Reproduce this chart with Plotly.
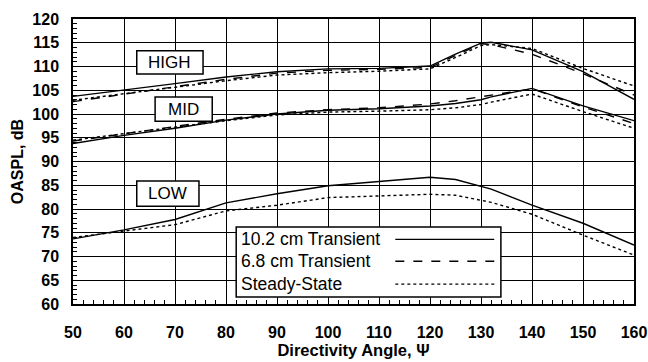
import plotly.graph_objects as go

angle = [50, 60, 70, 80, 90, 100, 110, 120, 125, 130, 132, 140, 150, 160]

high_102 = [103.7, 105.0, 106.4, 107.8, 108.9, 109.5, 109.6, 110.1, 112.6, 114.9, 115.1, 113.5, 108.9, 103.1]
high_68  = [102.6, 104.2, 105.8, 107.3, 108.6, 109.2, 109.4, 109.8, 112.3, 114.8, 114.6, 112.6, 108.5, 104.0]
high_ss  = [102.9, 104.3, 105.7, 107.0, 108.2, 108.7, 109.0, 109.5, 111.9, 114.4, 114.6, 113.8, 109.6, 105.9]

mid_102 = [93.8, 95.5, 97.0, 98.7, 100.0, 100.8, 101.1, 101.7, 102.2, 103.0, 103.6, 105.4, 101.7, 98.6]
mid_68  = [94.3, 95.8, 97.3, 98.9, 100.2, 100.9, 101.3, 102.1, 102.8, 103.6, 104.0, 105.3, 101.5, 98.0]
mid_ss  = [94.5, 95.9, 97.3, 98.6, 99.8, 100.4, 100.6, 100.9, 101.3, 102.0, 102.5, 104.2, 100.5, 97.0]

low_102 = [73.7, 75.6, 77.8, 81.3, 83.2, 84.9, 85.8, 86.7, 86.2, 84.8, 84.2, 80.8, 77.0, 72.4]
low_ss  = [74.0, 75.3, 76.7, 79.6, 80.8, 82.4, 82.8, 83.1, 82.9, 81.9, 81.4, 78.9, 74.5, 70.3]

series_names = ["10.2 cm Transient", "6.8 cm Transient", "Steady-State"]
series_dash = ["solid", "dash", "dot"]
band_labels = ["HIGH", "MID", "LOW"]

fig = go.Figure()

def add(y, dash):
    fig.add_trace(go.Scatter(x=angle, y=y, mode="lines",
                             line=dict(color="black", width=1.4, dash=dash),
                             showlegend=False, hoverinfo="skip"))

add(high_102, "solid"); add(high_68, "dash"); add(high_ss, "dot")
add(mid_102, "solid"); add(mid_68, "dash"); add(mid_ss, "dot")
add(low_102, "solid"); add(low_ss, "dot")

font_main = "Liberation Sans, Arial, sans-serif"

# band label boxes (data coords)
boxes = [(62.5, 75.5, 108.4, 113.3), (66.1, 77.3, 98.5, 103.6), (62.5, 74.7, 80.6, 85.9)]
for lab, (x0, x1, y0, y1) in zip(band_labels, boxes):
    fig.add_shape(type="rect", x0=x0, x1=x1, y0=y0, y1=y1, xref="x", yref="y",
                  line=dict(color="black", width=1.5), fillcolor="white", layer="above")
    fig.add_annotation(x=(x0 + x1) / 2, y=(y0 + y1) / 2, text=lab, showarrow=False,
                       xref="x", yref="y", font=dict(family=font_main, size=17, color="black"))

# legend box
lx0, lx1, ly0, ly1 = 82.0, 133.9, 61.5, 76.2
fig.add_shape(type="rect", x0=lx0, x1=lx1, y0=ly0, y1=ly1, xref="x", yref="y",
              line=dict(color="black", width=1.5), fillcolor="white", layer="above")
rows = [73.6, 69.0, 64.2]
for name, dash, yy in zip(series_names, series_dash, rows):
    fig.add_annotation(x=lx0 + 0.5, y=yy, text=name, showarrow=False, xanchor="left",
                       xref="x", yref="y", font=dict(family=font_main, size=17.5, color="black"))
    fig.add_shape(type="line", x0=113.2, x1=132.6, y0=yy, y1=yy, xref="x", yref="y",
                  line=dict(color="black", width=1.3, dash=dash), layer="above")

axis_common = dict(showline=True, linecolor="black", linewidth=1.5, mirror=True,
                   showgrid=True, gridcolor="black", gridwidth=1.3,
                   ticks="", zeroline=False, automargin=False,
                   tickfont=dict(family=font_main, size=16, color="black"))

fig.update_xaxes(range=[50, 160], dtick=10, tick0=50,
                 title=dict(text="<b>Directivity Angle, Ψ</b>", font=dict(family=font_main, size=16.5, color="black"),
                            standoff=3),
                 minor=dict(dtick=2, ticks="inside", ticklen=4, tickcolor="black", showgrid=False),
                 tickprefix="<b>", ticksuffix="</b>", ticklabelstandoff=13,
                 **axis_common)
fig.update_yaxes(range=[60, 120], dtick=5, tick0=60,
                 title=dict(text="<b>OASPL, dB</b>", font=dict(family=font_main, size=16, color="black"),
                            standoff=5),
                 minor=dict(dtick=1, ticks="inside", ticklen=4, tickcolor="black", showgrid=False),
                 tickprefix="<b>", ticksuffix="</b>", ticklabelstandoff=9,
                 **axis_common)

fig.update_layout(width=648, height=362, margin=dict(l=73, r=14, t=19, b=58),
                  paper_bgcolor="white", plot_bgcolor="white", showlegend=False)

fig.write_html("out.html")
